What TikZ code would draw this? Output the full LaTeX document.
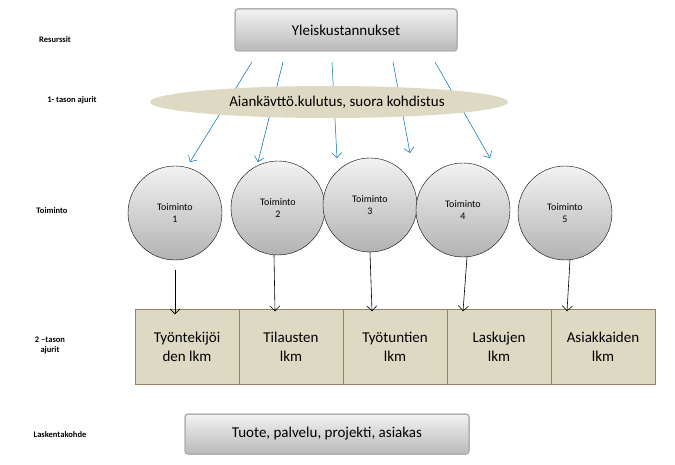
\documentclass[tikz,border=0pt]{standalone}
\usepackage{fontspec}
\setmainfont{Carlito}
\usetikzlibrary{positioning,shapes.geometric,arrows.meta}
\definecolor{khaki}{HTML}{DDD9C3}

\tikzset{
  lbl/.style={font=\bfseries\fontsize{8.5}{10}\selectfont, align=center},
  topbox/.style={draw=gray!60, rounded corners=3pt, line width=1.5pt, top color=gray!10, bottom color=gray!55,
                 minimum width=222pt, minimum height=42pt, font=\fontsize{15}{17}\selectfont},
  akt/.style={circle, draw=black, top color=gray!10, bottom color=gray!60, minimum size=94pt,
              inner sep=0pt, align=center, font=\fontsize{10}{12}\selectfont},
  cell/.style={draw=gray!60!brown, fill=khaki, minimum width=104pt, minimum height=75pt,
               align=center, font=\fontsize{15}{19}\selectfont},
  blu/.style={draw=blue!40!cyan!70!black, line width=.5pt, -{Straight Barb[length=5pt]}},
  blk/.style={draw=black, line width=.6pt, -{Straight Barb[length=5pt]}}
}

\begin{document}
\begin{tikzpicture}[x=1pt,y=-1pt]
\useasboundingbox (0,0) rectangle (675,465);

% vasen sarake
\node [lbl] (resurssit) at (55,40) {Resurssit};
\node [lbl] (ajurit1) at (72,100) {1- tason ajurit};
\node [lbl] (toiminto) at (52,211) {Toiminto};
\node [lbl] (ajurit2) at (50,345) {2 --tason\\ ajurit};
\node [lbl] (kohde) at (60,435) {Laskentakohde};

% resurssit
\node [topbox] (yk) at (346,30) {Yleiskustannukset};

% 1. tason ajurit
\coordinate (s1) at (252,62); \coordinate (e1) at (190,162);
\coordinate (s2) at (283,62); \coordinate (e2) at (258,162);
\coordinate (s3) at (332,62); \coordinate (e3) at (337,158);
\coordinate (s4) at (393,62); \coordinate (e4) at (410,153);
\coordinate (s5) at (435,62); \coordinate (e5) at (490,158);
\foreach \i in {1,...,5} \draw [blu] (s\i) -- (e\i);
\node [ellipse, fill=khaki, minimum width=358pt, minimum height=32pt,
       font=\fontsize{15}{17}\selectfont] (ajuri) at (329,102) {\hspace*{16pt}Aiankävttö.kulutus, suora kohdistus};

% toiminnot
\node [akt] (t1) at (175,213) {Toiminto\\1};
\node [akt] (t2) at (278,208) {Toiminto\\2};
\node [akt] (t3) at (370,205) {Toiminto\\3};
\node [akt] (t4) at (463,210) {Toiminto\\4};
\node [akt] (t5) at (565,213) {Toiminto\\5};

% 2. tason ajurit
\node [cell] (c1) at (187,347) {Työntekijöi\\den lkm};
\node [cell] (c2) at (291,347) {Tilausten\\lkm};
\node [cell] (c3) at (395,347) {Työtuntien\\lkm};
\node [cell] (c4) at (499,347) {Laskujen\\lkm};
\node [cell] (c5) at (603,347) {Asiakkaiden\\lkm};

\coordinate (a1) at (175,270);
\draw [blk] (a1) -- ([xshift=-12pt,yshift=-5pt]c1.north);
\draw [blk] ([xshift=-4pt]t2.south) -- ([xshift=-16pt,yshift=-2pt]c2.north);
\draw [blk] (t3.south) -- ([xshift=-23pt,yshift=-2pt]c3.north);
\draw [blk] ([xshift=4pt]t4.south) -- ([xshift=-36pt,yshift=-2pt]c4.north);
\draw [blk] ([xshift=5pt]t5.south) -- ([xshift=-36pt,yshift=-2pt]c5.north);

% laskentakohde
\node [topbox, minimum width=284pt, minimum height=40pt] (lk) at (327,434) {Tuote, palvelu, projekti, asiakas};
\end{tikzpicture}
\end{document}
